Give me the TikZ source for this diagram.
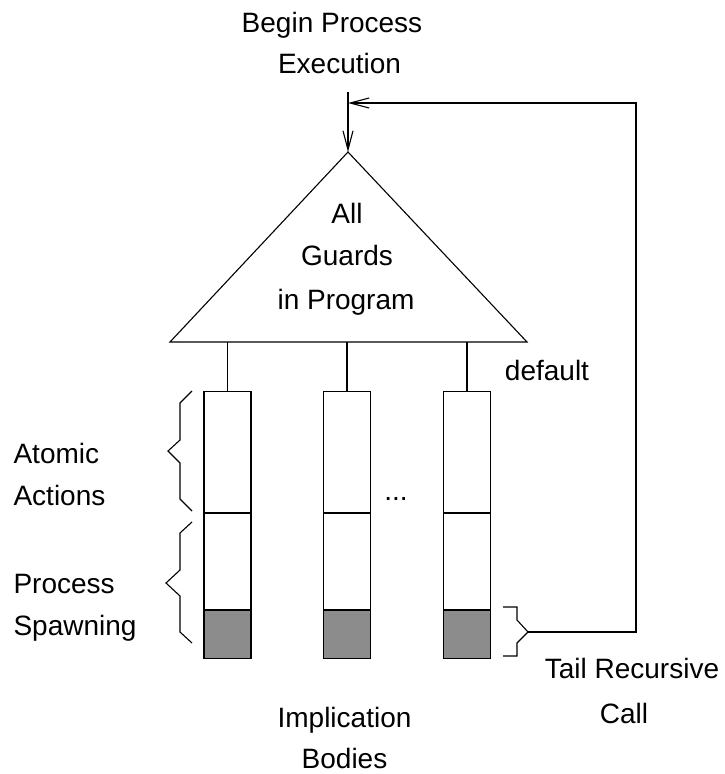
\documentclass[tikz,border=0pt]{standalone}
\usepackage{fontspec}
\setmainfont{Liberation Sans}
\usetikzlibrary{arrows.meta}
\begin{document}
\begin{tikzpicture}[x=1pt,y=-1pt,
  line width=1.1pt,
  lbl/.style={inner sep=0pt,anchor=base,font=\fontsize{28}{42}\selectfont},
  lblw/.style={lbl,anchor=base west},
  cell/.style={draw,minimum width=47pt,inner sep=0pt,anchor=north},
  grey/.style={cell,fill={rgb,255:red,140;green,140;blue,140}},
  arr/.style={-{Straight Barb[length=19pt,width=10pt,line width=1.1pt]}},
  brace/.style={line join=miter}]
\useasboundingbox (0,0) rectangle (725,774);
% triangle
\coordinate (apex) at (348,152);
\coordinate (bl) at (170,342);
\coordinate (br) at (527,342);
\draw[line join=miter] (bl) -- (apex) -- (br) -- cycle;
% columns
\foreach \n/\x in {1/227.5,2/347,3/467}{
  \node[cell,minimum height=121pt] (t\n) at (\x,391) {};
  \node[cell,minimum height=96pt] (m\n) at (t\n.south) {};
  \node[grey,minimum height=48pt] (g\n) at (m\n.south) {};
  \draw (t\n.north) -- (t\n.north |- bl);
}
% input arrow
\coordinate (start) at (348,92);
\draw[arr] (start) -- (apex);
% braces
\draw[brace] (192,391) -- (180,403) -- (180,440) -- (168,451) -- (180,463) -- (180,499) -- (192,511);
\draw[brace] (192,522) -- (180,533) -- (180,570) -- (166,583) -- (180,596) -- (180,632) -- (192,643);
\coordinate (tip) at (528,632);
\draw[brace] (503,607) -- (517,607) -- (517,620) -- (tip) -- (517,643) -- (517,656) -- (503,656);
% feedback
\coordinate (fb1) at (636,632);
\coordinate (fb2) at (636,103);
\coordinate (fbend) at (348,103);
\draw[arr] (tip) -- (fb1) -- (fb2) -- (fbend);
% labels
\node[lbl] (begin1) at (332,32) {Begin Process};
\node[lbl] (begin2) at (339.5,73) {Execution};
\node[lbl] (g1) at (347,223) {All};
\node[lbl] (g2) at (347,265) {Guards};
\node[lbl] (g3) at (346,309) {in Program};
\node[lbl] (def) at (547,380) {default};
\node[lblw] (aa1) at (13,463) {Atomic};
\node[lblw] (aa2) at (13,505) {Actions};
\node[lblw] (ps1) at (13,593) {Process};
\node[lblw] (ps2) at (13,635) {Spawning};
\node[lbl] (dots) at (396,500) {...};
\node[lbl] (ib1) at (344.5,727) {Implication};
\node[lbl] (ib2) at (344.5,768) {Bodies};
\node[lbl] (tr1) at (632,678) {Tail Recursive};
\node[lbl] (tr2) at (624,723) {Call};
\end{tikzpicture}
\end{document}
